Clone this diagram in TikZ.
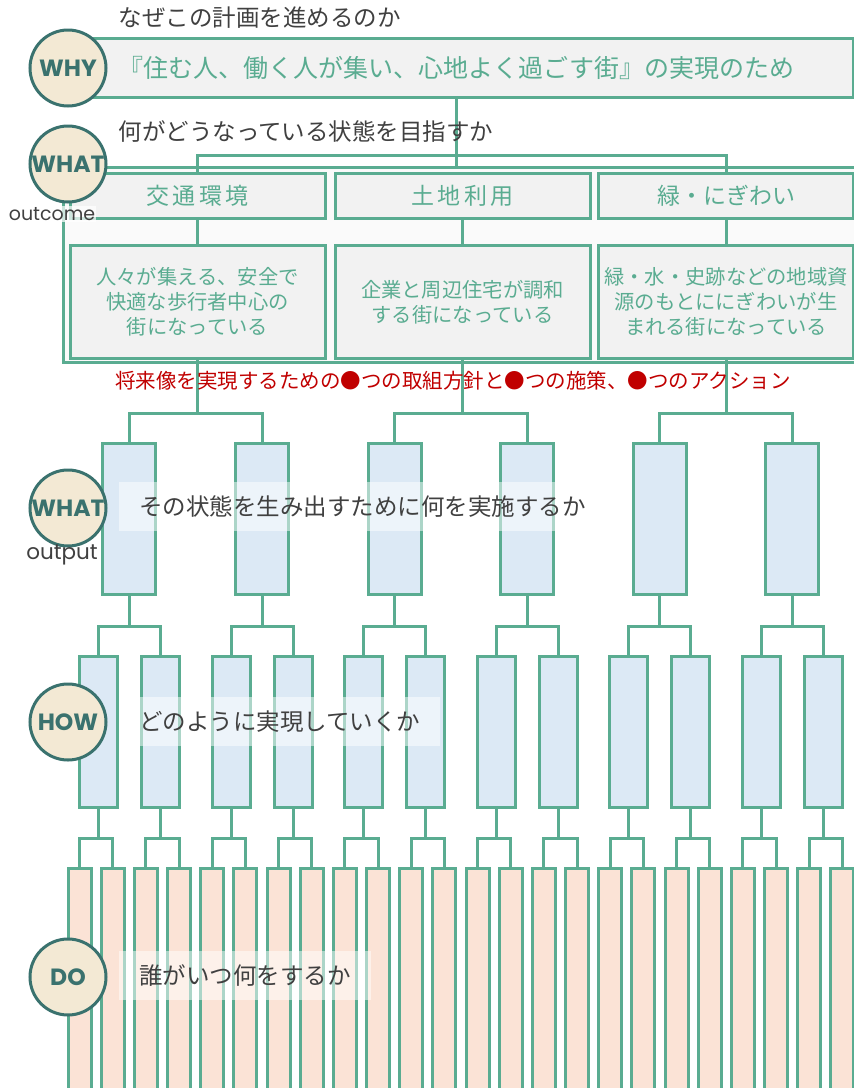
\documentclass[tikz,border=0pt]{standalone}
\usepackage{fontspec}
\setmainfont{Noto Sans CJK JP}
\newfontfamily\circfont{Poppins}
\usetikzlibrary{calc}

\definecolor{lgreen}{RGB}{90,172,145}
\definecolor{dteal}{RGB}{58,114,110}
\definecolor{beige}{RGB}{243,233,212}
\definecolor{lgray}{RGB}{242,242,242}
\definecolor{framegray}{RGB}{250,250,250}
\definecolor{lblue}{RGB}{220,233,245}
\definecolor{peach}{RGB}{251,227,214}
\definecolor{darktext}{RGB}{64,64,64}
\definecolor{redtext}{RGB}{192,0,0}

\tikzset{
  box/.style={draw=lgreen, line width=3pt, rectangle, inner sep=0pt},
  catbox/.style={box, fill=lgray, text=lgreen, minimum width=255pt, minimum height=45pt, font=\fontsize{23}{26}\selectfont\addfontfeature{LetterSpace=14}},
  goalbox/.style={box, fill=lgray, text=lgreen, minimum width=255pt, minimum height=113pt, align=center, font=\fontsize{20.3}{25}\selectfont},
  outbox/.style={box, fill=lblue, minimum width=53pt, minimum height=151pt},
  howbox/.style={box, fill=lblue, minimum width=38pt, minimum height=151pt},
  dobox/.style={box, fill=peach, minimum width=23pt, minimum height=224pt},
  link/.style={draw=lgreen, line width=3pt},
  tag/.style={circle, draw=dteal, line width=3pt, fill=beige, text=dteal, minimum size=76pt, inner sep=0pt, font=\circfont\bfseries\fontsize{23.5}{23.5}\selectfont},
  heading/.style={text=darktext, anchor=west, font=\fontsize{23.5}{28}\selectfont},
  veil/.style={heading, fill=white, fill opacity=0.5, text opacity=1, inner xsep=20pt, minimum height=49pt},
  sublabel/.style={text=darktext, inner sep=1pt, font=\circfont\fontsize{19}{22}\selectfont},
}

\begin{document}
\begin{tikzpicture}[x=1pt, y=-1pt]

\useasboundingbox (0,0) rectangle (854,1088);

\node[box, fill=lgray, text=lgreen, minimum width=793pt, minimum height=59pt, font=\fontsize{25}{30}\selectfont] (why) at (456.5,67.5) {『住む人、働く人が集い、心地よく過ごす街』の実現のため};

\node[box, fill=framegray, minimum width=797pt, minimum height=195pt] (frame) at (461.5,264.5) {};

\node[catbox] (cat1) at (197.5,195.5) {交通環境};
\node[catbox] (cat2) at (462.5,195.5) {土地利用};
\node[catbox, font=\fontsize{23}{26}\selectfont] (cat3) at (726,195.5) {緑・にぎわい};

\node[goalbox] (goal1) at (197.5,302) {人々が集える、安全で\\快適な歩行者中心の\\街になっている};
\node[goalbox] (goal2) at (462.5,302) {企業と周辺住宅が調和\\する街になっている};
\node[goalbox] (goal3) at (726,302) {緑・水・史跡などの地域資\\源のもとににぎわいが生\\まれる街になっている};

\foreach \i in {1,...,6}
  \node[outbox] (out\i) at ({129.4+132.6*(\i-1)},518.5) {};

\foreach \i [evaluate=\i as \a using int(2*\i-1), evaluate=\i as \b using int(2*\i)] in {1,...,6} {
  \node[howbox] (how\a) at ($(out\i)+(-31,213)$) {};
  \node[howbox] (how\b) at ($(out\i)+(31,213)$) {};
}

\foreach \i in {1,...,24}
  \node[dobox] (do\i) at ({79.5+33.17*(\i-1)},980) {};

\draw[link] (why.south) -- (why.south |- frame.north);
\draw[link] (cat1.north) -- ++(0,-16) -| (cat3.north);
\foreach \i in {1,2,3}
  \draw[link] (cat\i) -- (goal\i.north);

\foreach \i [evaluate=\i as \a using int(2*\i-1), evaluate=\i as \b using int(2*\i)] in {1,2,3}
  \draw[link] (goal\i.south) -- ++(0,53.5) coordinate (g\i) -| (out\a.north) (g\i) -| (out\b.north);

\foreach \i [evaluate=\i as \a using int(2*\i-1), evaluate=\i as \b using int(2*\i)] in {1,...,6}
  \draw[link] (out\i.south) -- ++(0,31) coordinate (o\i) -| (how\a.north) (o\i) -| (how\b.north);

\foreach \i [evaluate=\i as \a using int(2*\i-1), evaluate=\i as \b using int(2*\i)] in {1,...,12}
  \draw[link] (how\i.south) -- ++(0,30) coordinate (h\i) -| (do\a.north) (h\i) -| (do\b.north);

\node[heading] (q1) at (115,18) {なぜこの計画を進めるのか};
\node[heading] (q2) at (115,131) {何がどうなっている状態を目指すか};
\node[text=redtext, font=\fontsize{20.5}{24}\selectfont] (plan) at (453,381) {将来像を実現するための●つの取組方針と●つの施策、●つのアクション};

\node[veil] (q3) at (119,506.5) {その状態を生み出すために何を実施するか};
\node[veil] (q4) at (119,721.5) {どのように実現していくか};
\node[veil] (q5) at (119,975.5) {誰がいつ何をするか};

\node[tag] (tagwhy) at (68,68) {WHY};
\node[tag] (tagwhat) at (68,164) {WHAT};
\node[sublabel, fill=white, fill opacity=0.7, text opacity=1] (outcome) at (52,214) {outcome};
\node[tag] (tagout) at (68,508) {WHAT};
\node[sublabel, font=\circfont\fontsize{21.5}{24}\selectfont] (output) at (62,555) {output};
\node[tag] (taghow) at (68,722) {HOW};
\node[tag] (tagdo) at (68,977) {DO};

\end{tikzpicture}
\end{document}
